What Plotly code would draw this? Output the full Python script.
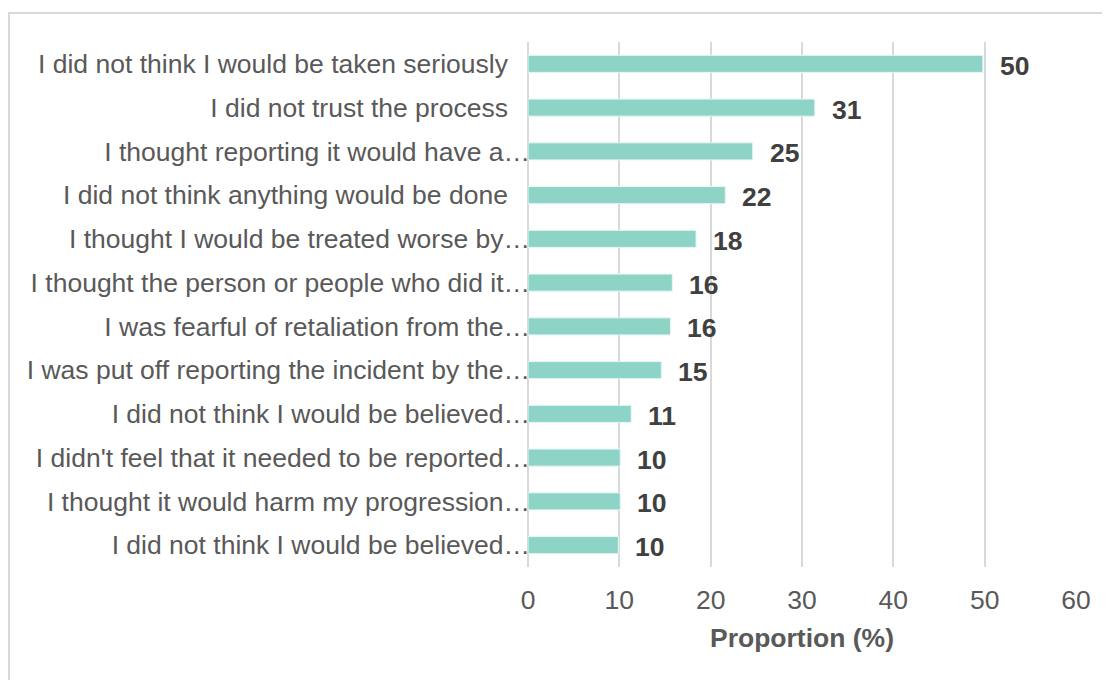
import plotly.graph_objects as go

categories = [
    "I did not think I would be taken seriously\u00a0\u00a0\u00a0",
    "I did not trust the process\u00a0\u00a0\u00a0",
    "I thought reporting it would have a…",
    "I did not think anything would be done\u00a0\u00a0\u00a0",
    "I thought I would be treated worse by…",
    "I thought the person or people who did it…",
    "I was fearful of retaliation from the…",
    "I was put off reporting the incident by the…",
    "I did not think I would be believed…",
    "I didn't feel that it needed to be reported…",
    "I thought it would harm my progression…",
    "I did not think I would be believed…",
]
# duplicate category text needs unique ids
ids = list(range(len(categories)))
values = [49.8, 31.4, 24.6, 21.6, 18.4, 15.8, 15.6, 14.6, 11.3, 10.1, 10.1, 9.9]
labels = ["50", "31", "25", "22", "18", "16", "16", "15", "11", "10", "10", "10"]
x_ticks = [0, 10, 20, 30, 40, 50, 60]

FONT = "Liberation Sans, Arial, sans-serif"
TXT = "#595959"
FS = 26.5

fig = go.Figure()
fig.add_trace(go.Bar(
    x=values, y=ids, orientation="h",
    marker=dict(color="#8DD4C7", line=dict(color="#E6F6F3", width=1)),
    hoverinfo="x",
))

annotations = []
for i, (v, lab) in enumerate(zip(values, labels)):
    annotations.append(dict(
        x=v, y=i, xref="x", yref="y", text=lab, showarrow=False,
        xanchor="left", yanchor="middle", xshift=15, yshift=-2,
        font=dict(family=FONT, size=FS, color="#404040", weight="bold"),
    ))

# page body has an 8px margin, so the figure is sized/offset accordingly
W, H = 1102, 672
L, R, T, B = 520, 34, 34, 113
pw, ph = W - L - R, H - T - B
fig.add_shape(
    type="rect", xref="paper", yref="paper",
    x0=(1 - L) / pw, x1=(1130 - L) / pw,
    y0=(H - B - 720) / ph, y1=(H - B - 5) / ph,
    line=dict(color="#D9D9D9", width=2), fillcolor="rgba(0,0,0,0)", layer="below",
)

fig.update_layout(
    width=W, height=H,
    margin=dict(l=L, r=R, t=T, b=B, pad=0),
    paper_bgcolor="white", plot_bgcolor="white",
    showlegend=False, bargap=0.61,
    font=dict(family=FONT, size=FS, color=TXT),
    annotations=annotations,
    xaxis=dict(
        range=[0, 60], tickvals=x_ticks, showgrid=True, gridcolor="#D9D9D9", gridwidth=2,
        zeroline=True, zerolinecolor="#D9D9D9", zerolinewidth=2,
        showline=False, ticks="", tickfont=dict(size=FS, color=TXT),
        ticklabelstandoff=14,
        title=dict(text="Proportion (%)", font=dict(size=FS, color=TXT, weight="bold"), standoff=14),
        fixedrange=True,
    ),
    yaxis=dict(
        tickvals=ids, ticktext=categories, autorange=False, range=[11.5, -0.5],
        showgrid=False, zeroline=False, showline=False, ticks="",
        ticklabelstandoff=-3,
        tickfont=dict(size=FS, color=TXT), fixedrange=True,
    ),
)

fig.write_html("out.html")
